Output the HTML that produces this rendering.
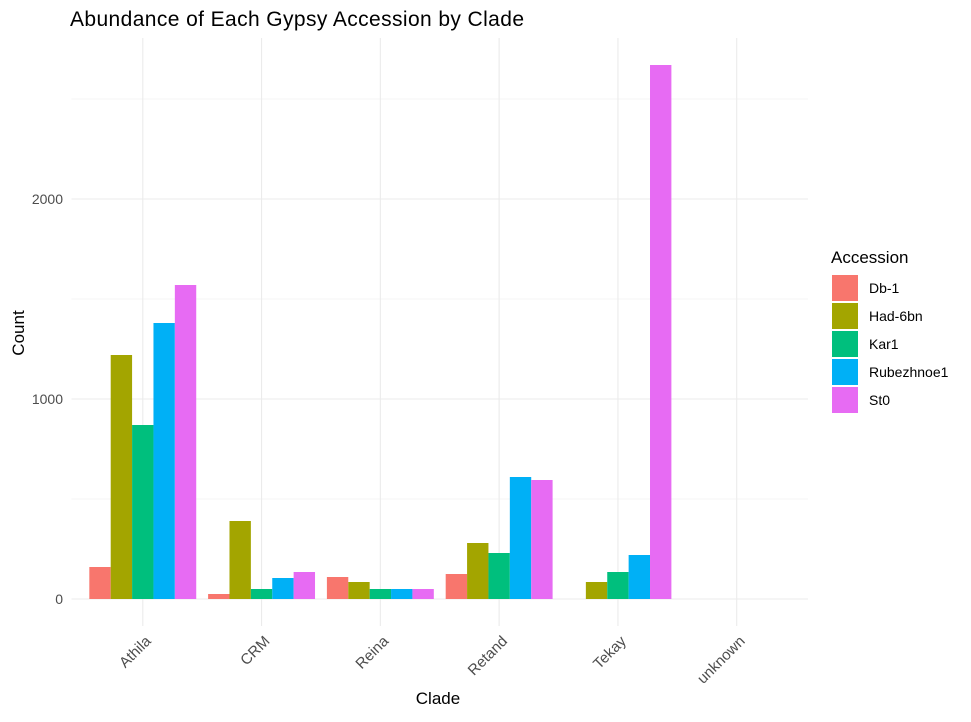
<!DOCTYPE html>
<html><head><meta charset="utf-8"><style>
body{margin:0;background:#fff;font-family:"Liberation Sans",sans-serif}
</style></head><body>
<svg id="c" width="971" height="717" xmlns="http://www.w3.org/2000/svg" font-family="Liberation Sans, sans-serif"></svg>
<script>
const categories=["Athila","CRM","Reina","Retand","Tekay","unknown"];
const seriesNames=["Db-1","Had-6bn","Kar1","Rubezhnoe1","St0"];
const colors=["#F8766D","#A3A500","#00BF7D","#00B0F6","#E76BF3"];
const db1=[160,25,110,125,0,0];
const had6bn=[1220,390,85,280,85,0];
const kar1=[870,50,50,230,135,0];
const rub=[1380,105,50,610,220,0];
const st0=[1570,135,50,595,2670,0];
const series=[db1,had6bn,kar1,rub,st0];
const yTicks=[0,1000,2000];
const yMinor=[500,1500,2500];
const svg=document.getElementById('c');
const NS="http://www.w3.org/2000/svg";
const L=71.5,R=808,T=38,B=626;
const step=(R-L)/(categories.length-1+1.2);
const xc=i=>L+step*(0.6+i);
const y=v=>599-v*0.2;
function mk(t,a,txt){const e=document.createElementNS(NS,t);for(const k in a)e.setAttribute(k,a[k]);if(txt!==undefined)e.textContent=txt;svg.appendChild(e);return e;}
yMinor.forEach(v=>{const e=mk('line',{x1:L,x2:R,y1:y(v),y2:y(v),stroke:'#ebebeb','stroke-width':0.6});

});
yTicks.forEach(v=>{const e=mk('line',{x1:L,x2:R,y1:y(v),y2:y(v),stroke:'#ebebeb','stroke-width':1.1});


const t=mk('text',{x:63,y:y(v)+5,'text-anchor':'end','font-size':14,fill:'#4d4d4d'},v);

});
categories.forEach((c,i)=>{const e=mk('line',{x1:xc(i),x2:xc(i),y1:T,y2:B,stroke:'#ebebeb','stroke-width':1.1});

});
const bw=step*0.9/series.length;
series.forEach((s,j)=>s.forEach((v,i)=>{if(v<=0)return;
const x0=xc(i)-step*0.45+j*bw;
const r=mk('rect',{x:x0,y:y(v),width:bw,height:y(0)-y(v),fill:colors[j]});

}));
categories.forEach((c,i)=>{const x=xc(i)+9,yy=642;
const t=mk('text',{x:x,y:yy,'text-anchor':'end','font-size':15,fill:'#4d4d4d',transform:`rotate(-45 ${x} ${yy})`},c);

});
let e;
e=mk('text',{x:70,y:26,'font-size':21,fill:'#000',textLength:454},'Abundance of Each Gypsy Accession by Clade');


e=mk('text',{x:438,y:704,'text-anchor':'middle','font-size':17,fill:'#000'},'Clade');


e=mk('text',{x:24,y:333,'text-anchor':'middle','font-size':17,fill:'#000',transform:'rotate(-90 24 333)'},'Count');


e=mk('text',{x:831,y:263,'font-size':17,fill:'#000'},'Accession');


seriesNames.forEach((n,j)=>{const cy=288+j*28;
const r=mk('rect',{x:832,y:cy-13,width:26,height:26,fill:colors[j]});


const t=mk('text',{x:869,y:cy+5,'font-size':14,fill:'#000'},n);

});
</script>
</body></html>
